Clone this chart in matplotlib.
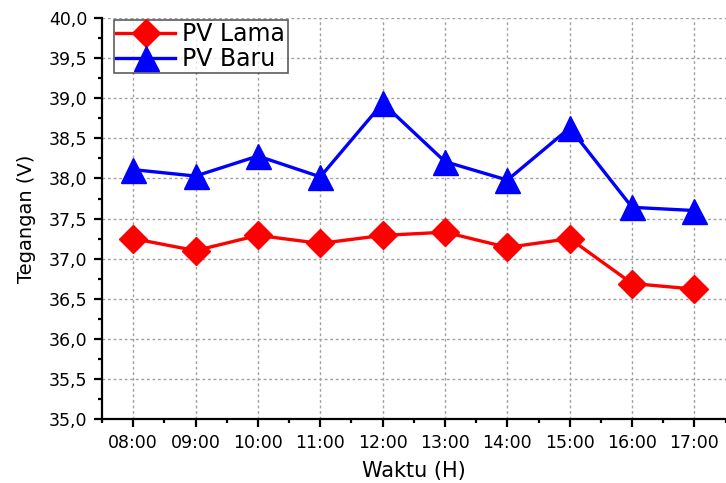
import matplotlib.pyplot as plt
from matplotlib.ticker import MultipleLocator, FuncFormatter

plt.rcParams['font.family'] = ['DejaVu Sans']

###  DATA  ###
waktu = ['08:00', '09:00', '10:00', '11:00', '12:00',
         '13:00', '14:00', '15:00', '16:00', '17:00']
pv_lama = [37.25, 37.10, 37.29, 37.19, 37.29, 37.33, 37.14, 37.25, 36.69, 36.62]
pv_baru = [38.11, 38.03, 38.28, 38.02, 38.94, 38.21, 37.98, 38.63, 37.64, 37.60]

###  PLOT  ###
fig = plt.figure(figsize=(7.26, 4.83), dpi=100)
ax = fig.add_axes([0.1405, 0.1325, 0.859, 0.830])

x = list(range(len(waktu)))
ax.plot(x, pv_lama, color='#ff0000', lw=2.4, marker='D', markersize=14.5,
        markeredgecolor='#ff0000', label='PV Lama', zorder=3)
ax.plot(x, pv_baru, color='#0000ff', lw=2.4, marker='^', markersize=18,
        markeredgecolor='#0000ff', label='PV Baru', zorder=3)

ax.set_xlim(-0.5, 9.5)
ax.set_ylim(35, 40)
ax.set_xticks(x)
ax.set_xticklabels(waktu)
ax.xaxis.set_minor_locator(MultipleLocator(0.5))
ax.yaxis.set_major_locator(MultipleLocator(0.5))
ax.yaxis.set_minor_locator(MultipleLocator(0.25))
ax.yaxis.set_major_formatter(FuncFormatter(lambda v, p: ('%.1f' % v).replace('.', ',')))

ax.grid(True, which='major', linestyle=(0, (2, 2)), color='#a0a0a0', lw=1)
ax.set_axisbelow(True)

for s in ['top', 'right']:
    ax.spines[s].set_visible(False)
for s in ['left', 'bottom']:
    ax.spines[s].set_linewidth(1.6)

ax.tick_params(which='major', direction='out', length=5.5, width=1.6, labelsize=12.5, pad=5)
ax.tick_params(which='minor', direction='out', length=3, width=1.6)

ax.set_xlabel('Waktu (H)', fontsize=15, labelpad=7)
ax.set_ylabel('Tegangan (V)', fontsize=14, labelpad=9)

lg = ax.legend(loc='upper left', bbox_to_anchor=(0.019, 0.995), fontsize=17,
               frameon=True, fancybox=False, edgecolor='#333333',
               handlelength=2.5, borderpad=0.1, labelspacing=0.02,
               handletextpad=0.3, borderaxespad=0.0)
lg.get_frame().set_linewidth(1.2)

plt.savefig('out.png', dpi=100)
